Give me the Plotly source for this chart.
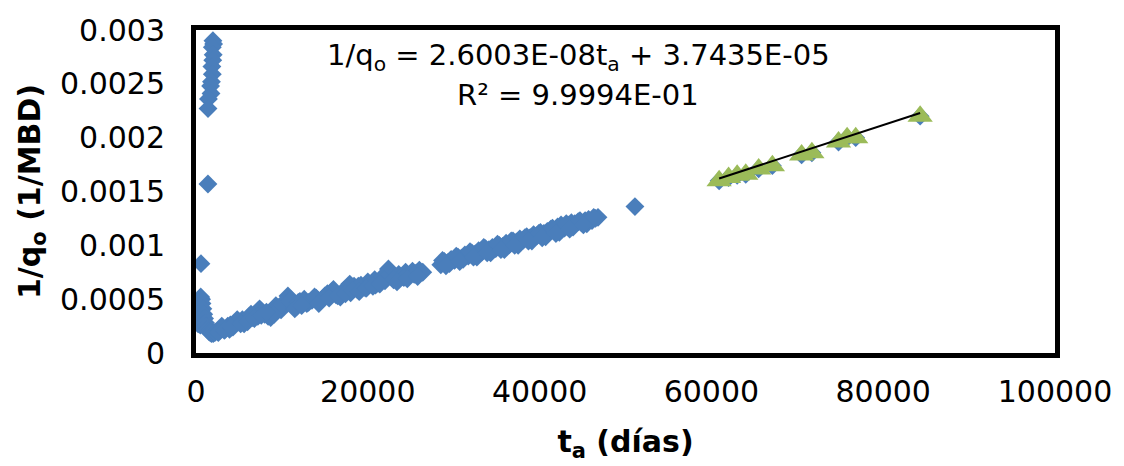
import plotly.graph_objects as go

# ---- data ----
# early production cluster and main trend (blue diamonds)
t_early = [150, 200, 250, 250, 300, 350, 400, 450, 500, 550, 580, 650, 700, 800, 900, 1000,
           1100, 1200, 1350, 1500, 1650, 1800, 2000, 2200, 2500]
q_early = [0.00029, 0.00033, 0.00027, 0.00038, 0.00042, 0.00046, 0.00030, 0.00050, 0.00026,
           0.00052, 0.00083, 0.00050, 0.00046, 0.00041, 0.00036, 0.00032, 0.00028, 0.00025,
           0.00022, 0.00020, 0.00019, 0.00018, 0.00018, 0.00019, 0.00020]

t_upper = [1970, 2050, 1900, 2000, 1950, 1850, 1900, 1800, 1700, 1750, 1450, 1400, 1390]
q_upper = [0.00290, 0.00287, 0.00284, 0.00277, 0.00272, 0.00266, 0.00259, 0.00252, 0.00248,
           0.00241, 0.00236, 0.00227, 0.00157]

t_main = [2800, 3100, 3400, 3700, 4000, 4300, 4600, 5000, 5400, 5800, 6200, 6600, 7000, 7400,
          7700, 8000, 8400, 8700, 9000, 9300, 9600, 9900, 10300, 10700, 11000, 11300, 11700,
          12100, 12600, 13100, 13500, 14000, 14700, 15300, 15800, 16300, 16800, 17200, 17600,
          18000, 18400, 18800, 19200, 19600, 20000, 20400, 20800, 21200, 21600, 22000, 22400,
          22800, 23200, 23600, 24000, 24400, 24800, 25200, 25600, 26000,
          28500, 28900, 29300, 29700, 30100, 30500, 30900, 31300, 31700, 32100, 32500, 32900,
          33300, 33700, 34100, 34500, 34900, 35300, 35700, 36100, 36500, 36900, 37300, 37700,
          38100, 38500, 38900, 39300, 39700, 40100, 40500, 40900, 41300, 41700, 42100, 42500,
          42900, 43300, 43700, 44100, 44500, 44900, 45300, 45700, 46100, 46500, 46800, 51100]
q_main = [0.00021, 0.00023, 0.00022, 0.00025, 0.00026, 0.00024, 0.00028, 0.00029, 0.00031,
          0.00030, 0.00034, 0.00033, 0.00037, 0.00041, 0.00038, 0.00036, 0.00034, 0.00033,
          0.00039, 0.00044, 0.00042, 0.00040, 0.00047, 0.00053, 0.00050, 0.00046, 0.00043,
          0.00048, 0.00050, 0.00047, 0.00049, 0.00051, 0.00050, 0.00055, 0.00057, 0.00054,
          0.00052, 0.00058, 0.00060, 0.00056, 0.00062, 0.00059, 0.00063, 0.00061, 0.00066,
          0.00064, 0.00068, 0.00065, 0.00070, 0.00067, 0.00078, 0.00071, 0.00069, 0.00073,
          0.00071, 0.00075, 0.00072, 0.00076, 0.00074, 0.00077,
          0.00082, 0.00085, 0.00084, 0.00087, 0.00086, 0.00089, 0.00088, 0.00091, 0.00090,
          0.00093, 0.00092, 0.00095, 0.00094, 0.00097, 0.00096, 0.00098, 0.00097, 0.00100,
          0.00099, 0.00102, 0.00101, 0.00104, 0.00103, 0.00106, 0.00105, 0.00108, 0.00107,
          0.00110, 0.00109, 0.00112, 0.00111, 0.00113, 0.00115, 0.00114, 0.00117, 0.00119,
          0.00116, 0.00119, 0.00121, 0.00120, 0.00122, 0.00121, 0.00123, 0.00124, 0.00123,
          0.00125, 0.00126, 0.00136]

# additional scattered points of the main trend (upper and lower edges of the band)
t_extra = [3000, 3900, 4800, 5600, 6400, 7200, 9100, 10000, 10900, 11900, 12900, 13800, 15000,
           16000, 17000, 17900, 18900, 19900, 20900, 21900, 23000, 24200, 25400, 26400,
           28700, 29500, 30300, 31100, 31900, 32700, 33500, 34300, 35100, 35900, 36700, 37500,
           38300, 39100, 39900, 40700, 41500, 42300, 43100, 43900, 44700, 45500, 46300]
q_extra = [0.00025, 0.00022, 0.00031, 0.00027, 0.00036, 0.00034, 0.00036, 0.00045, 0.00048,
           0.00047, 0.00046, 0.00052, 0.00053, 0.00059, 0.00055, 0.00064, 0.00062, 0.00061,
           0.00063, 0.00068, 0.00068, 0.00070, 0.00073, 0.00075,
           0.00086, 0.00083, 0.00090, 0.00087, 0.00094, 0.00089, 0.00098, 0.00093, 0.00101,
           0.00096, 0.00104, 0.00100, 0.00107, 0.00104, 0.00111, 0.00108, 0.00116, 0.00112,
           0.00120, 0.00117, 0.00123, 0.00120, 0.00126]
t_extra2 = [2600, 3300, 4100, 5200, 6000, 6800, 7600, 8200, 11500, 12300, 14300, 15500, 16500,
            17400, 18200, 19000, 19800, 20600, 21400, 23400, 24600, 25800, 29100, 30700, 32300,
            33900, 35500, 37100, 38700, 40300, 41900, 43500, 45100]
q_extra2 = [0.00019, 0.00021, 0.00024, 0.00027, 0.00029, 0.00032, 0.00035, 0.00038, 0.00041,
            0.00044, 0.00046, 0.00051, 0.00053, 0.00055, 0.00058, 0.00057, 0.00060, 0.00062,
            0.00064, 0.00066, 0.00069, 0.00071, 0.00081, 0.00085, 0.00089, 0.00093, 0.00096,
            0.00100, 0.00104, 0.00107, 0.00111, 0.00115, 0.00119]

# late-time points used for the fit (green triangles, also in blue series)
t_fit = [60900, 62000, 63000, 64000, 65500, 67100, 70500, 71700, 74800, 75800, 76800, 84300]
q_fit = [0.00160, 0.00163, 0.00165, 0.00166, 0.00171, 0.00174, 0.00184, 0.00186, 0.00196,
         0.00200, 0.00200, 0.00220]

# fitted trendline parameters (shown in the equation)
slope = 2.6003e-08
intercept = 3.7435e-05
r2_text = "9.9994E-01"

x_ticks = [0, 20000, 40000, 60000, 80000, 100000]
x_ticktext = ["0", "20000", "40000", "60000", "80000", "100000"]
y_ticks = [0, 0.0005, 0.001, 0.0015, 0.002, 0.0025, 0.003]
y_ticktext = ["0", "0.0005", "0.001", "0.0015", "0.002", "0.0025", "0.003"]

# ---- figure ----
BLUE = "#4a7ebb"
GREEN = "#9bbb59"
FONT = "DejaVu Sans"

t_blue = t_early + t_upper + t_main + t_extra + t_extra2 + t_fit
q_blue = q_early + q_upper + q_main + q_extra + q_extra2 + q_fit

fig = go.Figure()
fig.add_trace(go.Scatter(
    x=t_blue, y=q_blue, mode="markers",
    marker=dict(symbol="diamond", size=14.5, color=BLUE, line=dict(width=0)),
    showlegend=False))
fig.add_trace(go.Scatter(
    x=t_fit, y=q_fit, mode="markers",
    marker=dict(symbol="triangle-up", size=22, color=GREEN, line=dict(width=0)),
    showlegend=False))
tl_x = [min(t_fit), max(t_fit)]
tl_y = [slope * v + intercept for v in tl_x]
fig.add_trace(go.Scatter(x=tl_x, y=tl_y, mode="lines",
                         line=dict(color="black", width=2), showlegend=False))

fig.add_annotation(
    xref="paper", yref="paper", x=0.445, y=0.915, xanchor="center", yanchor="middle",
    text="1/q<sub>o</sub> = 2.6003E-08t<sub>a</sub> + 3.7435E-05",
    showarrow=False, font=dict(family=FONT, size=29, color="black"))
fig.add_annotation(
    xref="paper", yref="paper", x=0.445, y=0.80, xanchor="center", yanchor="middle",
    text="R² = " + r2_text,
    showarrow=False, font=dict(family=FONT, size=29, color="black"))

axis_common = dict(showline=True, linecolor="black", linewidth=5, mirror=True,
                   showgrid=False, zeroline=False, ticks="",
                   tickfont=dict(family=FONT, size=30, color="black"))

fig.update_xaxes(range=[0, 100000], tickvals=x_ticks, ticktext=x_ticktext,
                 ticklabelstandoff=8,
                 title=dict(text="t<sub>a</sub> (días)", standoff=24,
                            font=dict(family=FONT, size=30, color="black", weight="bold")),
                 **axis_common)
fig.update_yaxes(range=[0, 0.003], tickvals=y_ticks, ticktext=y_ticktext,
                 ticklabelstandoff=20,
                 title=dict(text="1/q<sub>o</sub> (1/MBD)", standoff=12,
                            font=dict(family=FONT, size=30, color="black", weight="bold")),
                 **axis_common)

fig.update_layout(width=1124, height=466, plot_bgcolor="white", paper_bgcolor="white",
                  margin=dict(l=196, r=66, t=23, b=111))

fig.write_html("out.html")
